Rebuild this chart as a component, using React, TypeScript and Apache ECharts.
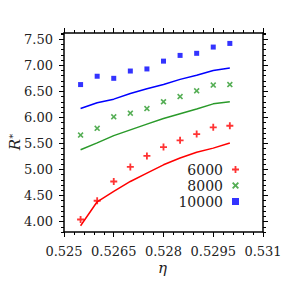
import React, { useEffect, useRef } from "react";
import * as echarts from "echarts";

const etaValues = [0.5255, 0.526, 0.5265, 0.527, 0.5275, 0.528, 0.5285, 0.529, 0.5295, 0.53];
const red6000Points = [4.04, 4.4, 4.77, 5.05, 5.26, 5.43, 5.56, 5.68, 5.81, 5.84];
const red6000Line = [3.92, 4.38, 4.58, 4.77, 4.93, 5.09, 5.22, 5.33, 5.41, 5.51];
const green8000Points = [5.66, 5.79, 6.01, 6.08, 6.17, 6.3, 6.4, 6.51, 6.62, 6.63];
const green8000Line = [5.38, 5.51, 5.65, 5.76, 5.87, 5.98, 6.07, 6.16, 6.26, 6.3];
const blue10000Points = [6.63, 6.79, 6.75, 6.89, 6.93, 7.08, 7.19, 7.23, 7.35, 7.42];
const blue10000Line = [6.17, 6.28, 6.35, 6.46, 6.55, 6.63, 6.73, 6.81, 6.9, 6.95];
const seriesNames = ["6000", "8000", "10000"];
const yTickValues = [4.0, 4.5, 5.0, 5.5, 6.0, 6.5, 7.0, 7.5];

const RED = "#ff0000";
const GREEN = "#2a9a2a";
const BLUE = "#0000ff";
const FONT = "DejaVu Serif";

const PLUS = "path://M3.7,0H6.3V3.7H10V6.3H6.3V10H3.7V6.3H0V3.7H3.7Z";
const CROSS = "path://M0,1.9L1.9,0L5,3.1L8.1,0L10,1.9L6.9,5L10,8.1L8.1,10L5,6.9L1.9,10L0,8.1L3.1,5Z";

const pairs = (ys: number[]) => etaValues.map((x, i) => [x, ys[i]]);

export default function App() {
  const ref = useRef<HTMLDivElement>(null);
  useEffect(() => {
    if (!ref.current) return;
    const chart = echarts.init(ref.current, undefined, { renderer: "svg" });
    const axisLine = { show: true, lineStyle: { color: "#000", width: 1.5 } };
    const yCommon = { type: "value", min: 3.8, max: 7.62, splitLine: { show: false } };
    const xCommon = {
      type: "value",
      min: 0.525,
      max: 0.531,
      interval: 0.0015,
      splitLine: { show: false },
      minorTick: { show: true, splitNumber: 5, length: 3, lineStyle: { color: "#000", width: 1 } },
      minorSplitLine: { show: false },
      axisTick: { show: true, length: 5, lineStyle: { color: "#000", width: 1 } },
      axisLine,
    };
    const xLabelFmt = (v: number) => String(parseFloat(v.toFixed(4)));
    chart.setOption({
      animation: false,
      backgroundColor: "#fff",
      grid: { left: 64, right: 28, top: 33, bottom: 59 },
      xAxis: [
        {
          ...xCommon,
          position: "bottom",
          axisLabel: { fontFamily: FONT, fontSize: 13, lineHeight: 12, color: "#222", margin: 13, formatter: xLabelFmt },
        },
        { ...xCommon, position: "top", axisLabel: { show: false } },
      ],
      yAxis: [
        {
          ...yCommon,
          position: "left",
          axisLine,
          axisTick: { show: true, length: 5, customValues: yTickValues, lineStyle: { color: "#000", width: 1 } },
          axisLabel: {
            fontFamily: FONT,
            fontSize: 13,
            color: "#222",
            margin: 11,
            customValues: yTickValues,
            formatter: (v: number) => v.toFixed(2),
          },
        },
        {
          ...yCommon,
          position: "left",
          interval: 0.1,
          axisLine: { show: false },
          axisTick: { show: true, length: 3, lineStyle: { color: "#000", width: 1 } },
          axisLabel: { show: false },
        },
        {
          ...yCommon,
          position: "right",
          axisLine,
          axisTick: { show: true, length: 5, customValues: yTickValues, lineStyle: { color: "#000", width: 1 } },
          axisLabel: { show: false },
        },
        {
          ...yCommon,
          position: "right",
          interval: 0.1,
          axisLine: { show: false },
          axisTick: { show: true, length: 3, lineStyle: { color: "#000", width: 1 } },
          axisLabel: { show: false },
        },
      ],
      legend: {
        data: seriesNames,
        orient: "vertical",
        right: 47,
        top: 157,
        align: "right",
        itemWidth: 7,
        itemHeight: 7,
        itemGap: 1,
        textStyle: { fontFamily: FONT, fontSize: 14, color: "#222", lineHeight: 15, padding: [0, 4, 0, 0] },
      },
      graphic: [
        {
          type: "text",
          left: 158,
          top: 260,
          style: { text: "η", fontFamily: FONT, fontStyle: "italic", fontSize: 15, lineHeight: 10, fill: "#222" },
        },
        {
          type: "text",
          x: 15,
          y: 142,
          rotation: Math.PI / 2,
          style: {
            text: "{r|R}{s|*}",
            rich: {
              r: { fontFamily: FONT, fontStyle: "italic", fontSize: 15, fill: "#222" },
              s: { fontFamily: FONT, fontSize: 10, fill: "#222", verticalAlign: "top", padding: [0, 0, 6, 0] },
            },
            align: "center",
            verticalAlign: "middle",
          },
        },
      ],
      series: [
        { name: "fit6000", type: "line", data: pairs(red6000Line), symbol: "none", lineStyle: { color: RED, width: 1.5 }, itemStyle: { color: RED } },
        { name: "fit8000", type: "line", data: pairs(green8000Line), symbol: "none", lineStyle: { color: GREEN, width: 1.5 }, itemStyle: { color: GREEN } },
        { name: "fit10000", type: "line", data: pairs(blue10000Line), symbol: "none", lineStyle: { color: BLUE, width: 1.5 }, itemStyle: { color: BLUE } },
        { name: "6000", type: "scatter", data: pairs(red6000Points), symbol: PLUS, symbolSize: 7, itemStyle: { color: RED }, z: 5 },
        { name: "8000", type: "scatter", data: pairs(green8000Points), symbol: CROSS, symbolSize: 6, itemStyle: { color: GREEN }, z: 5 },
        { name: "10000", type: "scatter", data: pairs(blue10000Points), symbol: "rect", symbolSize: 5, itemStyle: { color: BLUE }, z: 5 },
      ],
    });
    return () => chart.dispose();
  }, []);
  return <div ref={ref} style={{ width: 291, height: 291, position: "absolute", left: 0, top: 0 }} />;
}
